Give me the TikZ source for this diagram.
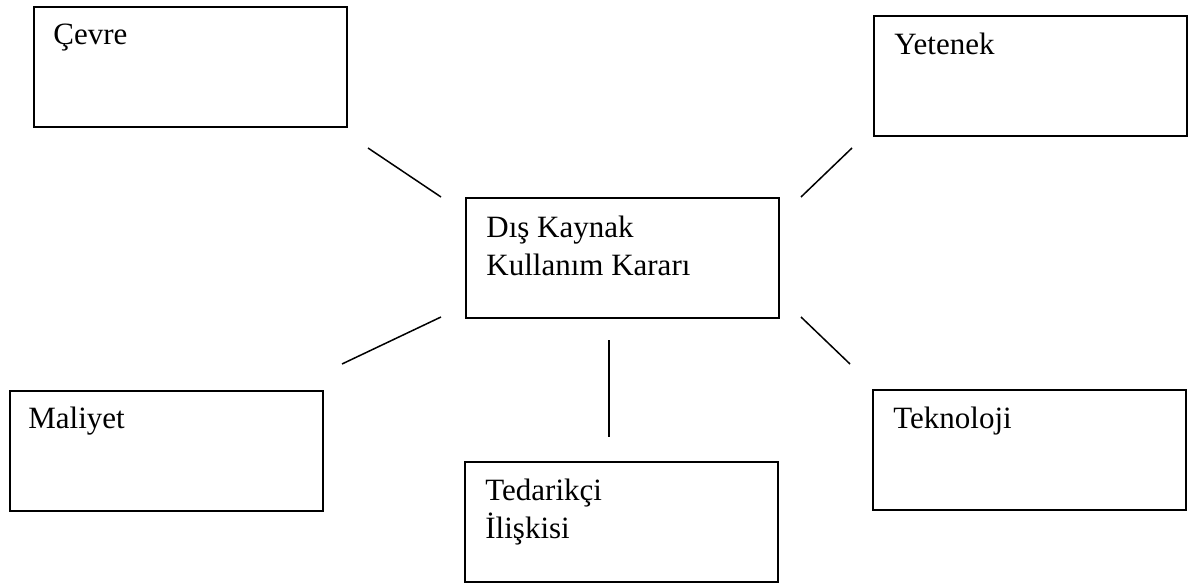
\documentclass[tikz,border=0pt]{standalone}
\usepackage{fontspec}
\setmainfont{Liberation Serif}
\begin{document}
\begin{tikzpicture}[x=0.5pt,y=-0.5pt]
		\tikzstyle{factor}=[rectangle,draw=black,line width=1pt,anchor=north west,inner sep=0pt,minimum width=156.5pt,minimum height=60pt]
		\tikzstyle{caption}=[anchor=base west,align=left,inner sep=0pt,font=\fontsize{15.5}{19}\selectfont]
		\tikzstyle{link}=[draw,line width=0.75pt]
		\useasboundingbox (0,0) rectangle (1196,583);
		\begin{scope}
			\node [factor] (cevre) at (33,6) {};
			\node [factor] (yetenek) at (873,15) {};
			\node [factor] (karar) at (465,197) {};
			\node [factor] (maliyet) at (9,390) {};
			\node [factor] (teknoloji) at (872,389) {};
			\node [factor] (tedarik) at (464,461) {};
			\node [caption] (cevre-t) at ([shift={(20,39)}]cevre.north west) {Çevre};
			\node [caption] (yetenek-t) at ([shift={(21,40)}]yetenek.north west) {Yetenek};
			\node [caption] (karar-t) at ([shift={(21,79)}]karar.north west) {Dış Kaynak\\Kullanım Kararı};
			\node [caption] (maliyet-t) at ([shift={(19,38)}]maliyet.north west) {Maliyet};
			\node [caption] (teknoloji-t) at ([shift={(21,39)}]teknoloji.north west) {Teknoloji};
			\node [caption] (tedarik-t) at ([shift={(21,77)}]tedarik.north west) {Tedarikçi\\İlişkisi};
			\coordinate (tl-a) at (368,148);
			\coordinate (tl-b) at (441,197);
			\coordinate (tr-a) at (852,148);
			\coordinate (tr-b) at (801,197);
			\coordinate (bl-a) at (342,364);
			\coordinate (bl-b) at (441,317);
			\coordinate (br-a) at (850,364);
			\coordinate (br-b) at (801,317);
			\coordinate (md-a) at (609,340);
			\coordinate (md-b) at (609,437);
			\path[link] (tl-a) -- (tl-b);
			\path[link] (tr-a) -- (tr-b);
			\path[link] (bl-a) -- (bl-b);
			\path[link] (br-a) -- (br-b);
			\path[link] (md-a) -- (md-b);
		\end{scope}
\end{tikzpicture}
\end{document}
